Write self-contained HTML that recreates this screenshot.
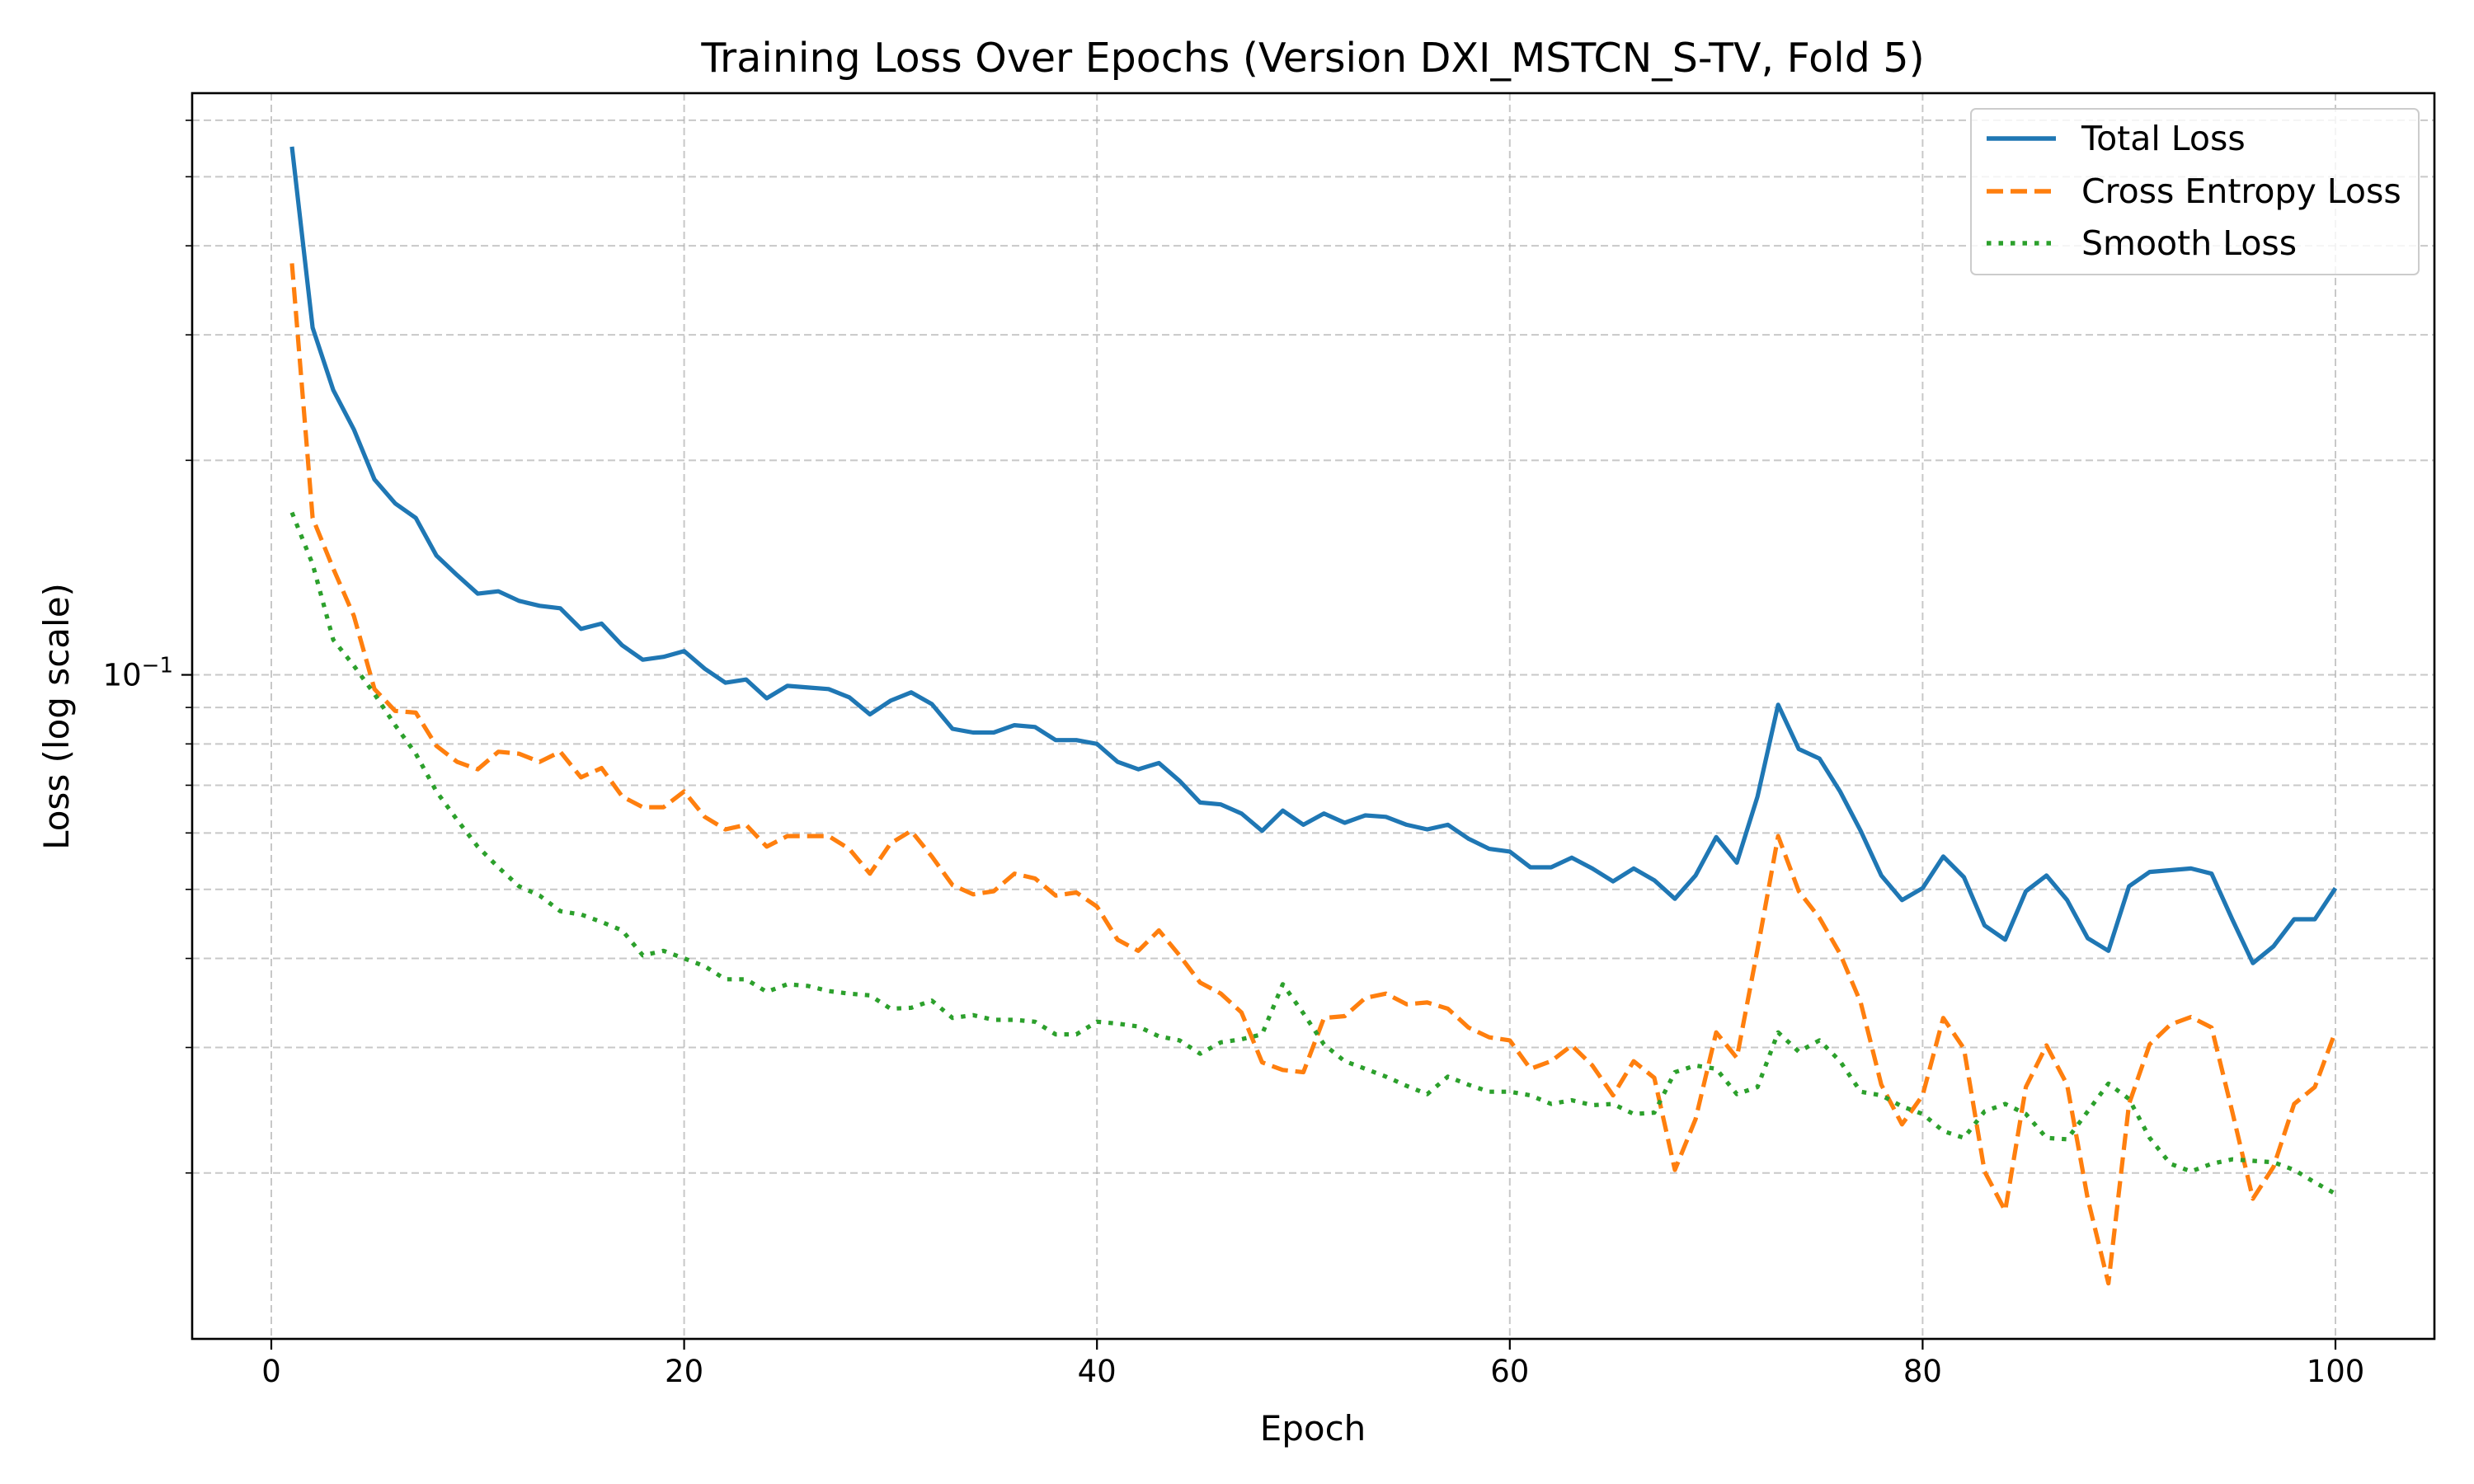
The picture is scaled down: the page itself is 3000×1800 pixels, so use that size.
<!DOCTYPE html>
<html><head><meta charset="utf-8"><style>
html,body{margin:0;padding:0;background:#fff;}
svg{display:block;font-family:"DejaVu Sans","Liberation Sans",sans-serif;}
</style></head><body>
<svg id="chart" width="3000" height="1800" viewBox="0 0 3000 1800">
<rect width="3000" height="1800" fill="#fff"/>
<text x="1592" y="87" font-size="49" text-anchor="middle" fill="#000">Training Loss Over Epochs (Version DXI_MSTCN_S-TV, Fold 5)</text>
<g id="grid"></g>
<g id="series"></g>
<rect x="233" y="113" width="2719" height="1511" fill="none" stroke="#000" stroke-width="2.6"/>
<g id="axes"></g>
<text x="1592" y="1747" font-size="42" text-anchor="middle">Epoch</text>
<text x="0" y="0" font-size="42" text-anchor="middle" transform="translate(83,869) rotate(-90)">Loss (log scale)</text>
<g>
<rect x="2390" y="132" width="543" height="201" rx="6" fill="#fff" fill-opacity="0.8" stroke="#ccc" stroke-width="2"/>
<line x1="2409" y1="168" x2="2493" y2="168" stroke="#1f77b4" stroke-width="5.5"/>
<text x="2524" y="182" font-size="41">Total Loss</text>
<line x1="2409" y1="232" x2="2493" y2="232" stroke="#ff7f0e" stroke-width="5.5" stroke-dasharray="20,9"/>
<text x="2524" y="246" font-size="41">Cross Entropy Loss</text>
<line x1="2409" y1="295" x2="2493" y2="295" stroke="#2ca02c" stroke-width="5.5" stroke-dasharray="5.5,9"/>
<text x="2524" y="309" font-size="41">Smooth Loss</text>
</g>
</svg>
<script>
const xTicks=[0,20,40,60,80,100];
const yGridValues=[0.02,0.03,0.04,0.05,0.06,0.07,0.08,0.09,0.1,0.2,0.3,0.4,0.5,0.6];
const totalLoss=[0.551,0.307,0.251,0.221,0.188,0.174,0.166,0.147,0.138,0.130,0.131,0.127,0.125,0.124,0.116,0.118,0.110,0.105,0.106,0.108,0.102,0.0975,0.0985,0.0927,0.0965,0.096,0.0955,0.093,0.088,0.092,0.0945,0.091,0.084,0.083,0.083,0.085,0.0845,0.081,0.081,0.080,0.0755,0.0737,0.0752,0.071,0.0662,0.0658,0.0639,0.0604,0.0645,0.0616,0.0639,0.062,0.0635,0.0632,0.0616,0.0607,0.0616,0.0589,0.057,0.0565,0.0537,0.0537,0.0554,0.0535,0.0513,0.0535,0.0515,0.0485,0.0523,0.0592,0.0545,0.0675,0.0908,0.0787,0.0763,0.0686,0.0604,0.0523,0.0483,0.0502,0.0556,0.052,0.0445,0.0425,0.0497,0.0523,0.0483,0.0427,0.041,0.0505,0.0529,0.0532,0.0535,0.0526,0.0454,0.0394,0.0416,0.0454,0.0454,0.0502];
const ceLoss=[0.378,0.166,0.141,0.121,0.0955,0.089,0.0885,0.0795,0.0755,0.0737,0.078,0.0775,0.0755,0.078,0.0718,0.074,0.0675,0.0652,0.0652,0.0686,0.0632,0.0607,0.0616,0.0574,0.0594,0.0594,0.0594,0.057,0.0526,0.058,0.0604,0.0556,0.0507,0.0492,0.0497,0.0526,0.0518,0.049,0.0495,0.0473,0.0425,0.041,0.0438,0.0404,0.037,0.0357,0.0336,0.0286,0.0279,0.0277,0.033,0.0332,0.0352,0.0357,0.0345,0.0347,0.034,0.032,0.031,0.0307,0.028,0.0287,0.0302,0.0283,0.0257,0.0287,0.0272,0.0202,0.0238,0.0315,0.029,0.0412,0.0594,0.0497,0.0456,0.0406,0.0347,0.0266,0.0234,0.0257,0.033,0.0299,0.0201,0.0177,0.0264,0.0302,0.0266,0.0184,0.014,0.025,0.0303,0.0323,0.0331,0.032,0.0244,0.0184,0.0204,0.025,0.0264,0.0316];
const smoothLoss=[0.169,0.143,0.112,0.103,0.094,0.085,0.0775,0.0686,0.0626,0.0574,0.0537,0.0505,0.049,0.0466,0.0461,0.045,0.0438,0.0404,0.041,0.040,0.039,0.0374,0.0374,0.0359,0.0368,0.0366,0.036,0.0357,0.0355,0.034,0.0341,0.0349,0.033,0.0333,0.0328,0.0328,0.0326,0.0313,0.0313,0.0326,0.0324,0.0321,0.0311,0.0307,0.0294,0.0305,0.0308,0.0313,0.0368,0.0335,0.0303,0.0287,0.028,0.0273,0.0265,0.0258,0.0273,0.0266,0.026,0.026,0.0257,0.025,0.0253,0.0249,0.025,0.0242,0.0243,0.0277,0.0283,0.028,0.0258,0.0264,0.0315,0.0296,0.0307,0.0287,0.026,0.0257,0.0248,0.0242,0.0229,0.0224,0.0244,0.025,0.0242,0.0224,0.0223,0.0244,0.0267,0.0254,0.0224,0.0206,0.0201,0.0206,0.0209,0.0208,0.0207,0.0202,0.0194,0.0187];

const NS='http://www.w3.org/2000/svg';
const X0=329,X1=2832,YT=113,YB=1624,LT=Math.log10(0.655),LB=Math.log10(0.0117);
function xs(e){return X0+(X1-X0)*e/100;}
function ys(v){return YT+(LT-Math.log10(v))/(LT-LB)*(YB-YT);}
function mk(tag,attrs,parent){const el=document.createElementNS(NS,tag);for(const k in attrs)el.setAttribute(k,attrs[k]);parent.appendChild(el);return el;}
const grid=document.getElementById('grid'),axes=document.getElementById('axes'),series=document.getElementById('series');
xTicks.forEach(t=>{
  const g=mk('line',{x1:xs(t),x2:xs(t),y1:YT,y2:YB,stroke:'#b0b0b0','stroke-width':2,'stroke-dasharray':'9,5','stroke-opacity':0.7},grid);
  
  
  const tk=mk('line',{x1:xs(t),x2:xs(t),y1:YB,y2:YB+13,stroke:'#000','stroke-width':2.2},axes);
  
  
  const lb=mk('text',{x:xs(t),y:YB+52,'font-size':37,'text-anchor':'middle'},axes);
  lb.textContent=String(t);
  
  
});
yGridValues.forEach(v=>{
  const y=ys(v),major=(v===0.1);
  const g=mk('line',{x1:233,x2:2952,y1:y,y2:y,stroke:'#b0b0b0','stroke-width':2,'stroke-dasharray':'9,5','stroke-opacity':0.7},grid);
  
  
  const tk=mk('line',{x1:233-(major?13:8),x2:233,y1:y,y2:y,stroke:'#000','stroke-width':major?2.2:1.6},axes);
  
  
});
const yl=mk('text',{x:210,y:ys(0.1)+13,'font-size':37,'text-anchor':'end'},axes);
yl.innerHTML='10<tspan dy="-16" font-size="26">−1</tspan>';


function line(data,color,dash,name){
  const d=data.map((v,i)=>(i?'L':'M')+xs(i+1).toFixed(1)+','+ys(v).toFixed(1)).join('');
  const p=mk('path',{d:d,fill:'none',stroke:color,'stroke-width':5.2,'stroke-linejoin':'round'},series);
  if(dash)p.setAttribute('stroke-dasharray',dash);
  
  
}
line(totalLoss,'#1f77b4',null,'total-loss-line');
line(ceLoss,'#ff7f0e','20,9','cross-entropy-loss-line');
line(smoothLoss,'#2ca02c','5.5,9','smooth-loss-line');
</script>
</body></html>
